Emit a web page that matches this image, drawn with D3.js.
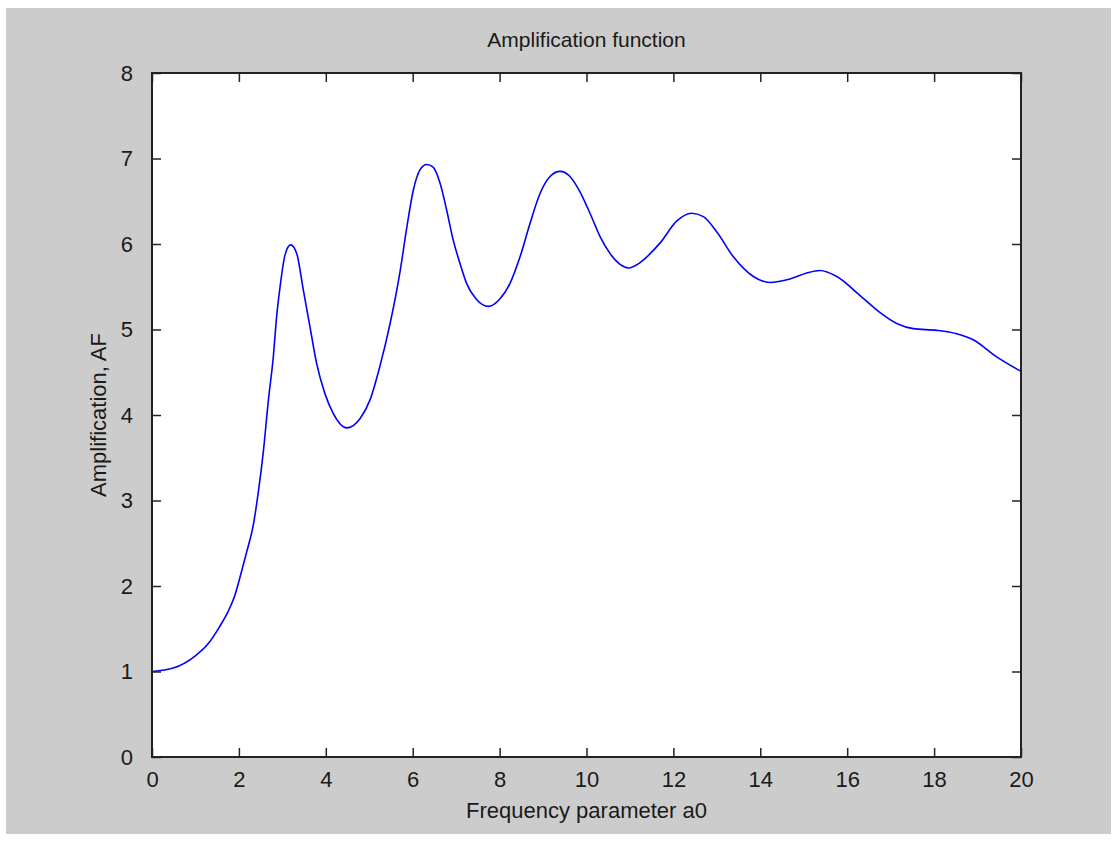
<!DOCTYPE html>
<html>
<head>
<meta charset="utf-8">
<script src="https://cdn.jsdelivr.net/npm/d3@7"></script>
<style>
  html, body { margin: 0; padding: 0; background: #ffffff; }
  text { font-family: "Liberation Sans", Arial, sans-serif; fill: #1a1a1a; }
</style>
</head>
<body>
<svg id="chart" width="1117" height="842"></svg>
<script>
// ---- data ----
const titleText = "Amplification function";
const xLabelText = "Frequency parameter a0";
const yLabelText = "Amplification, AF";
const xTicks = [0, 2, 4, 6, 8, 10, 12, 14, 16, 18, 20];
const yTicks = [0, 1, 2, 3, 4, 5, 6, 7, 8];
const a0 = [0, 0.49, 0.99, 1.30, 1.55, 1.75, 1.90, 2.05, 2.18, 2.33, 2.45, 2.56, 2.68, 2.79, 2.87, 2.95, 3.06, 3.19, 3.33, 3.48, 3.64, 3.79, 3.98, 4.17, 4.48, 4.79, 5.02, 5.25, 5.48, 5.71, 5.86, 6.01, 6.17, 6.32, 6.47, 6.63, 6.78, 6.93, 7.09, 7.24, 7.47, 7.74, 8.01, 8.24, 8.47, 8.70, 8.93, 9.16, 9.39, 9.62, 9.85, 10.08, 10.31, 10.54, 10.75, 10.97, 11.20, 11.39, 11.69, 12.08, 12.42, 12.69, 13.0, 13.38, 13.84, 14.22, 14.68, 15.07, 15.37, 15.76, 16.29, 16.75, 17.14, 17.52, 18.06, 18.52, 18.90, 19.44, 20.0];
const af = [1.0, 1.04, 1.18, 1.33, 1.52, 1.70, 1.88, 2.15, 2.40, 2.71, 3.11, 3.56, 4.18, 4.67, 5.16, 5.51, 5.87, 5.99, 5.89, 5.47, 5.02, 4.60, 4.25, 4.02, 3.85, 3.96, 4.18, 4.58, 5.07, 5.68, 6.18, 6.62, 6.87, 6.93, 6.90, 6.71, 6.40, 6.05, 5.77, 5.54, 5.35, 5.27, 5.36, 5.54, 5.85, 6.24, 6.59, 6.79, 6.85, 6.79, 6.61, 6.36, 6.09, 5.89, 5.77, 5.72, 5.77, 5.85, 6.01, 6.27, 6.36, 6.32, 6.14, 5.85, 5.62, 5.55, 5.59, 5.66, 5.69, 5.62, 5.40, 5.20, 5.07, 5.01, 4.99, 4.95, 4.88, 4.68, 4.51];

// ---- layout ----
const svg = d3.select("#chart");
const L = 152, R = 1021, T = 73, B = 757;
const x = d3.scaleLinear().domain([0, 20]).range([L, R]);
const y = d3.scaleLinear().domain([0, 8]).range([B, T]);

svg.append("rect").attr("x", 6).attr("y", 8).attr("width", 1105).attr("height", 826).attr("fill", "#cccccc");
svg.append("rect").attr("x", L).attr("y", T).attr("width", R - L).attr("height", B - T).attr("fill", "#ffffff");

// curve
const pts = a0.map((v, i) => [v, af[i]]);
svg.append("path")
  .datum(pts)
  .attr("fill", "none")
  .attr("stroke", "#0000ff")
  .attr("stroke-width", 1.6)
  .attr("d", d3.line().x(d => x(d[0])).y(d => y(d[1])).curve(d3.curveMonotoneX));

// axes (ticks inward, box)
const tickLen = 9;
function styleAxis(g) {
  g.selectAll(".domain").remove();
  g.selectAll(".tick line").attr("stroke", "#222").attr("stroke-width", 1.5);
  g.selectAll(".tick text").style("font-size", "22px").attr("fill", "#1a1a1a");
}
svg.append("g").attr("transform", `translate(0,${B})`)
  .call(d3.axisBottom(x).tickValues(xTicks).tickFormat(d3.format("d")).tickSizeInner(-tickLen).tickSizeOuter(0).tickPadding(14))
  .call(styleAxis);
svg.append("g").attr("transform", `translate(0,${T})`)
  .call(d3.axisTop(x).tickValues(xTicks).tickFormat("").tickSizeInner(-tickLen).tickSizeOuter(0))
  .call(styleAxis);
svg.append("g").attr("transform", `translate(${L},0)`)
  .call(d3.axisLeft(y).tickValues(yTicks).tickFormat(d3.format("d")).tickSizeInner(-tickLen).tickSizeOuter(0).tickPadding(19))
  .call(styleAxis);
svg.append("g").attr("transform", `translate(${R},0)`)
  .call(d3.axisRight(y).tickValues(yTicks).tickFormat("").tickSizeInner(-tickLen).tickSizeOuter(0))
  .call(styleAxis);

svg.append("rect").attr("x", L).attr("y", T).attr("width", R - L).attr("height", B - T)
  .attr("fill", "none").attr("stroke", "#222").attr("stroke-width", 2);

// labels
svg.append("text").attr("x", (L + R) / 2).attr("y", 47).attr("text-anchor", "middle")
  .style("font-size", "21px").text(titleText);
svg.append("text").attr("x", (L + R) / 2).attr("y", 818).attr("text-anchor", "middle")
  .style("font-size", "22px").text(xLabelText);
svg.append("text").attr("transform", `translate(106,${(T + B) / 2}) rotate(-90)`).attr("text-anchor", "middle")
  .style("font-size", "22px").text(yLabelText);
</script>
</body>
</html>
